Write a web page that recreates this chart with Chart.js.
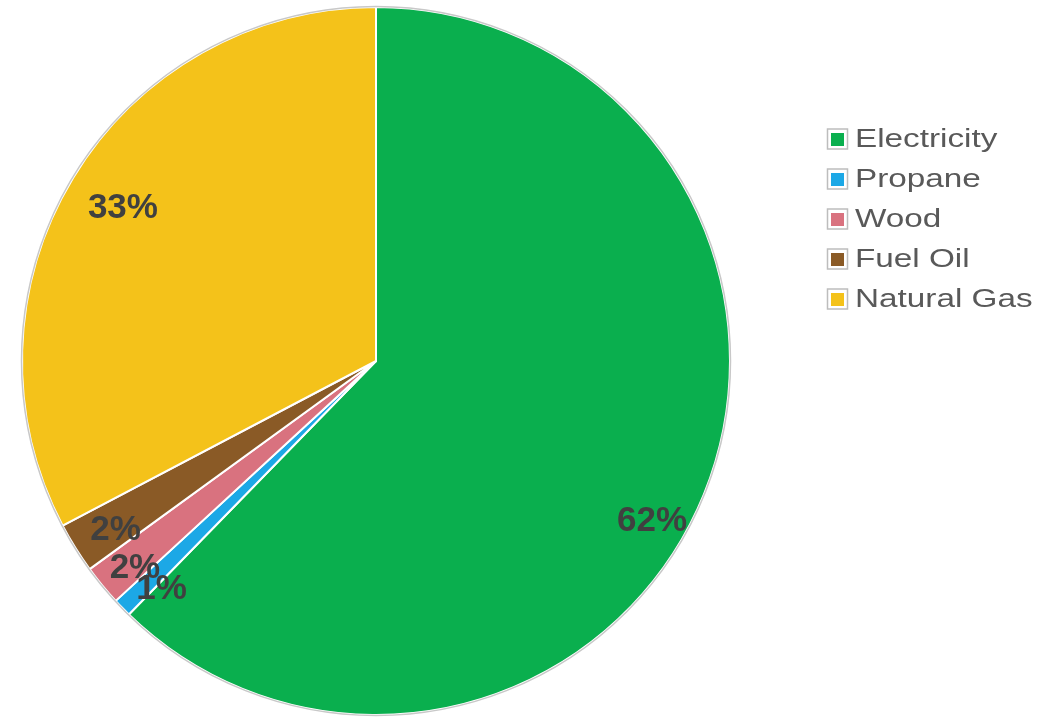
<!DOCTYPE html>
<html>
<head>
<meta charset="utf-8">
<script src="https://cdn.jsdelivr.net/npm/chart.js@4.4.1/dist/chart.umd.min.js"></script>
<style>
  html, body { margin: 0; padding: 0; background: #fff; }
  #wrap { width: 1061px; height: 718px; position: relative; }
</style>
</head>
<body>
<div id="wrap"><canvas id="myChart"></canvas></div>
<script>
const labels = ["Electricity", "Propane", "Wood", "Fuel Oil", "Natural Gas"];
const shares = [62.3, 0.85, 1.85, 2.3, 32.7];
const colors = ["#0AAF4E", "#1CA8E6", "#D9727F", "#8A5A26", "#F4C21A"];

// where each % label sits: fraction of radius, and a nudge in degrees from the slice middle
const labelPos = [[0.90, 7.8], [0.883, -2.5], [0.896, -1.2], [0.876, -1], [0.837, 0.2]];

const pctLabels = {
  id: 'pctLabels',
  afterDatasetsDraw(chart) {
    const ctx = chart.ctx;
    const meta = chart.getDatasetMeta(0);
    const vals = chart.data.datasets[0].data;
    const total = vals.reduce((a, b) => a + b, 0);

    // thin grey rim round the pie
    const a0 = meta.data[0];
    ctx.save();
    ctx.beginPath();
    ctx.arc(a0.x, a0.y, a0.outerRadius + 0.5, 0, Math.PI * 2);
    ctx.strokeStyle = '#C8C8C8';
    ctx.lineWidth = 1.5;
    ctx.stroke();

    ctx.font = 'bold 35px "Liberation Sans", Arial, sans-serif';
    ctx.fillStyle = '#404040';
    ctx.textAlign = 'center';
    ctx.textBaseline = 'middle';
    meta.data.forEach((arc, i) => {
      const [f, nudge] = labelPos[i];
      const mid = (arc.startAngle + arc.endAngle) / 2 + nudge * Math.PI / 180;
      const r = arc.outerRadius * f;
      const txt = Math.round(vals[i] / total * 100) + '%';
      ctx.fillText(txt, arc.x + Math.cos(mid) * r, arc.y + Math.sin(mid) * r + 1);
    });
    ctx.restore();
  }
};

const sideLegend = {
  id: 'sideLegend',
  afterDraw(chart) {
    const ctx = chart.ctx;
    const ds = chart.data.datasets[0];
    ctx.save();
    chart.data.labels.forEach((lab, i) => {
      const cy = 139 + i * 40;
      ctx.fillStyle = '#fff';
      ctx.fillRect(827, cy - 10, 21, 21);
      ctx.strokeStyle = '#BDBDBD';
      ctx.lineWidth = 1.5;
      ctx.strokeRect(827.5, cy - 10, 20, 20);
      ctx.fillStyle = ds.backgroundColor[i];
      ctx.fillRect(831, cy - 6, 13, 13);
      ctx.save();
      ctx.translate(855, cy + 1);
      ctx.scale(1.28, 1);
      ctx.font = '26px "Liberation Sans", Arial, sans-serif';
      ctx.fillStyle = '#595959';
      ctx.textBaseline = 'middle';
      ctx.fillText(lab, 0, 0);
      ctx.restore();
    });
    ctx.restore();
  }
};

const data = {
  labels: labels,
  datasets: [{
    data: shares,
    backgroundColor: colors,
    borderColor: '#ffffff',
    borderWidth: 2,
  }]
};

const config = {
  type: 'pie',
  data: data,
  options: {
    responsive: true,
    maintainAspectRatio: false,
    animation: false,
    layout: { padding: { left: 21, right: 330, top: 6, bottom: 2 } },
    plugins: {
      legend: { display: false },
      tooltip: { enabled: false }
    }
  },
  plugins: [pctLabels, sideLegend]
};

new Chart(document.querySelector("#myChart"), config);
</script>
</body>
</html>
